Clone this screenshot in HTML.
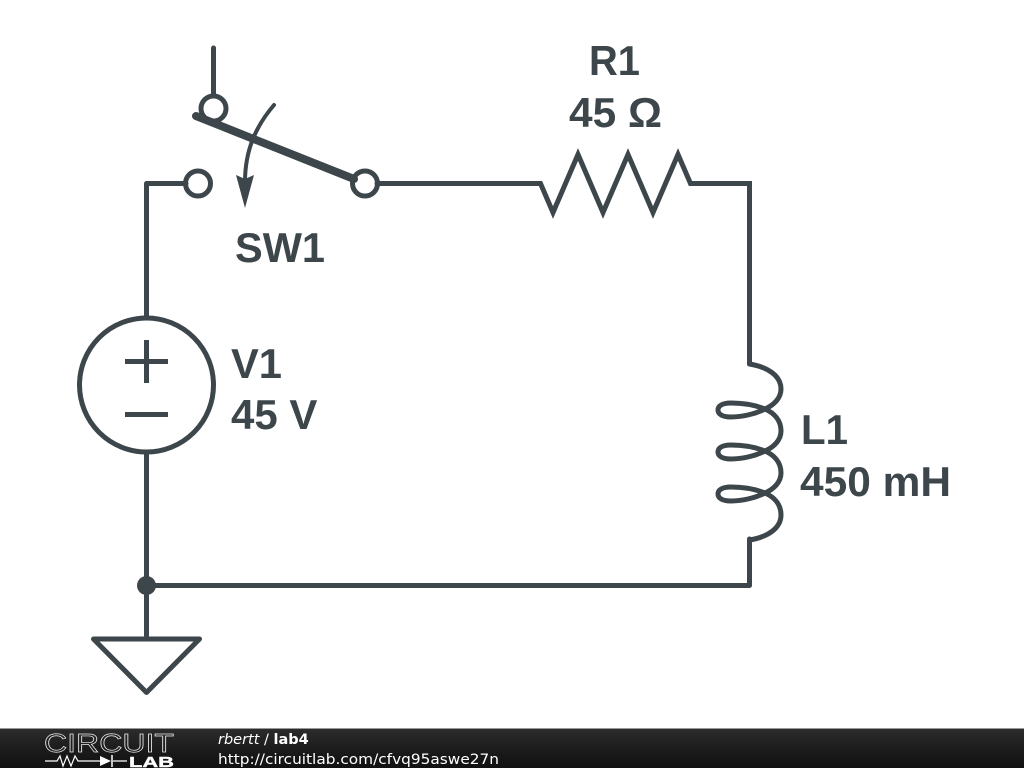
<!DOCTYPE html>
<html>
<head>
<meta charset="utf-8">
<style>
html,body{margin:0;padding:0;background:#fff;width:1024px;height:768px;overflow:hidden}
svg{display:block}
.l{font-family:"Liberation Sans",sans-serif;font-weight:bold;font-size:42px;fill:#3c464b}
.f{font-family:"DejaVu Sans",sans-serif;font-size:14.5px;fill:#fff}
</style>
</head>
<body>
<svg width="1024" height="768" viewBox="0 0 1024 768" xmlns="http://www.w3.org/2000/svg">
<defs>
<linearGradient id="g" x1="0" y1="0" x2="0" y2="1">
<stop offset="0" stop-color="#2c2c2c"/>
<stop offset="0.5" stop-color="#1c1c1c"/>
<stop offset="1" stop-color="#111"/>
</linearGradient>
</defs>
<rect width="1024" height="768" fill="#fff"/>
<g fill="none" stroke="#3c464b" stroke-width="5" stroke-linecap="round" stroke-linejoin="round">
<path d="M213.500 48V96"/>
<path d="M186 183.500H146.500V317"/>
<path d="M146.500 453V636"/>
<path d="M146.500 585.500H749.500V539"/>
<path d="M377 183.500H540.500L553 212.500L578 154.500L603 212.500L628 154.500L653 212.500L678 154.500L690.500 183.500H749.500V364" stroke-linejoin="miter" stroke-miterlimit="10"/>
<circle cx="213.500" cy="108.500" r="12.500"/>
<circle cx="198" cy="183.500" r="12.500"/>
<circle cx="365" cy="183.500" r="12.500"/>
<circle cx="146.500" cy="385" r="67"/>
<path d="M125 361.500H168M146.500 340V383" stroke-linecap="butt"/>
<path d="M125 414.500H168" stroke-linecap="butt"/>
<path d="M93.500 639H199.500L146.500 692.500Z"/>
<path d="M749.500 364C768 367 781 376 781 389C781 398 774 405 765 409C755 414 742 417 731 417C722 417 718 414 718 410C718 406 722 403 731 403C742 403 755 405 765 409C774 413 781 420 781 431C781 440 774 447 765 451C755 456 742 459 731 459C722 459 718 456 718 452C718 448 722 445 731 445C742 445 755 447 765 451C774 455 781 462 781 473C781 482 774 489 765 493C755 498 742 501 731 501C722 501 718 498 718 494C718 490 722 487 731 487C742 487 755 489 765 493C774 497 781 504 781 515C781 528 768 537 749.500 540"/>
<path d="M196 116L354 179" stroke-width="8"/>
<path d="M274 105C256 126 245 150 245 182" stroke-width="4"/>
</g>
<circle cx="146.500" cy="585.500" r="9.500" fill="#3c464b"/>
<path d="M236 175L245 179L254 175L245 208Z" fill="#3c464b"/>
<text class="l" x="589" y="75" textLength="51" lengthAdjust="spacingAndGlyphs">R1</text>
<text class="l" x="569" y="127" textLength="93" lengthAdjust="spacingAndGlyphs">45 Ω</text>
<text class="l" x="235" y="262" textLength="90" lengthAdjust="spacingAndGlyphs">SW1</text>
<text class="l" x="231" y="378" textLength="51" lengthAdjust="spacingAndGlyphs">V1</text>
<text class="l" x="231" y="429">45 V</text>
<text class="l" x="801" y="444" textLength="47" lengthAdjust="spacingAndGlyphs">L1</text>
<text class="l" x="800" y="496" textLength="151" lengthAdjust="spacingAndGlyphs">450 mH</text>
<rect y="728" width="1024" height="1" fill="#999"/>
<rect y="729" width="1024" height="39" fill="url(#g)"/>
<text x="44" y="752" font-family="Liberation Sans, sans-serif" font-size="26" fill="none" stroke="#e8e8e8" stroke-width="0.7" textLength="130" lengthAdjust="spacingAndGlyphs">CIRCUIT</text>
<path d="M45 761H57L60 756L63 766L67 756L71 766L75 756L78 761H100M113 761H127" fill="none" stroke="#fff" stroke-width="1.200"/>
<path d="M100 756L111 761L100 766Z" fill="#fff"/>
<path d="M112 755V767" stroke="#fff" stroke-width="1.500"/>
<text x="129" y="767" font-family="Liberation Sans, sans-serif" font-weight="bold" font-size="15" fill="#fff" stroke="#fff" stroke-width="0.4" textLength="45" lengthAdjust="spacingAndGlyphs">LAB</text>
<text class="f" x="218" y="744"><tspan font-style="italic">rbertt</tspan> / <tspan font-weight="bold">lab4</tspan></text>
<text class="f" x="218" y="764" textLength="281" lengthAdjust="spacingAndGlyphs">http://circuitlab.com/cfvq95aswe27n</text>
</svg>
</body>
</html>
